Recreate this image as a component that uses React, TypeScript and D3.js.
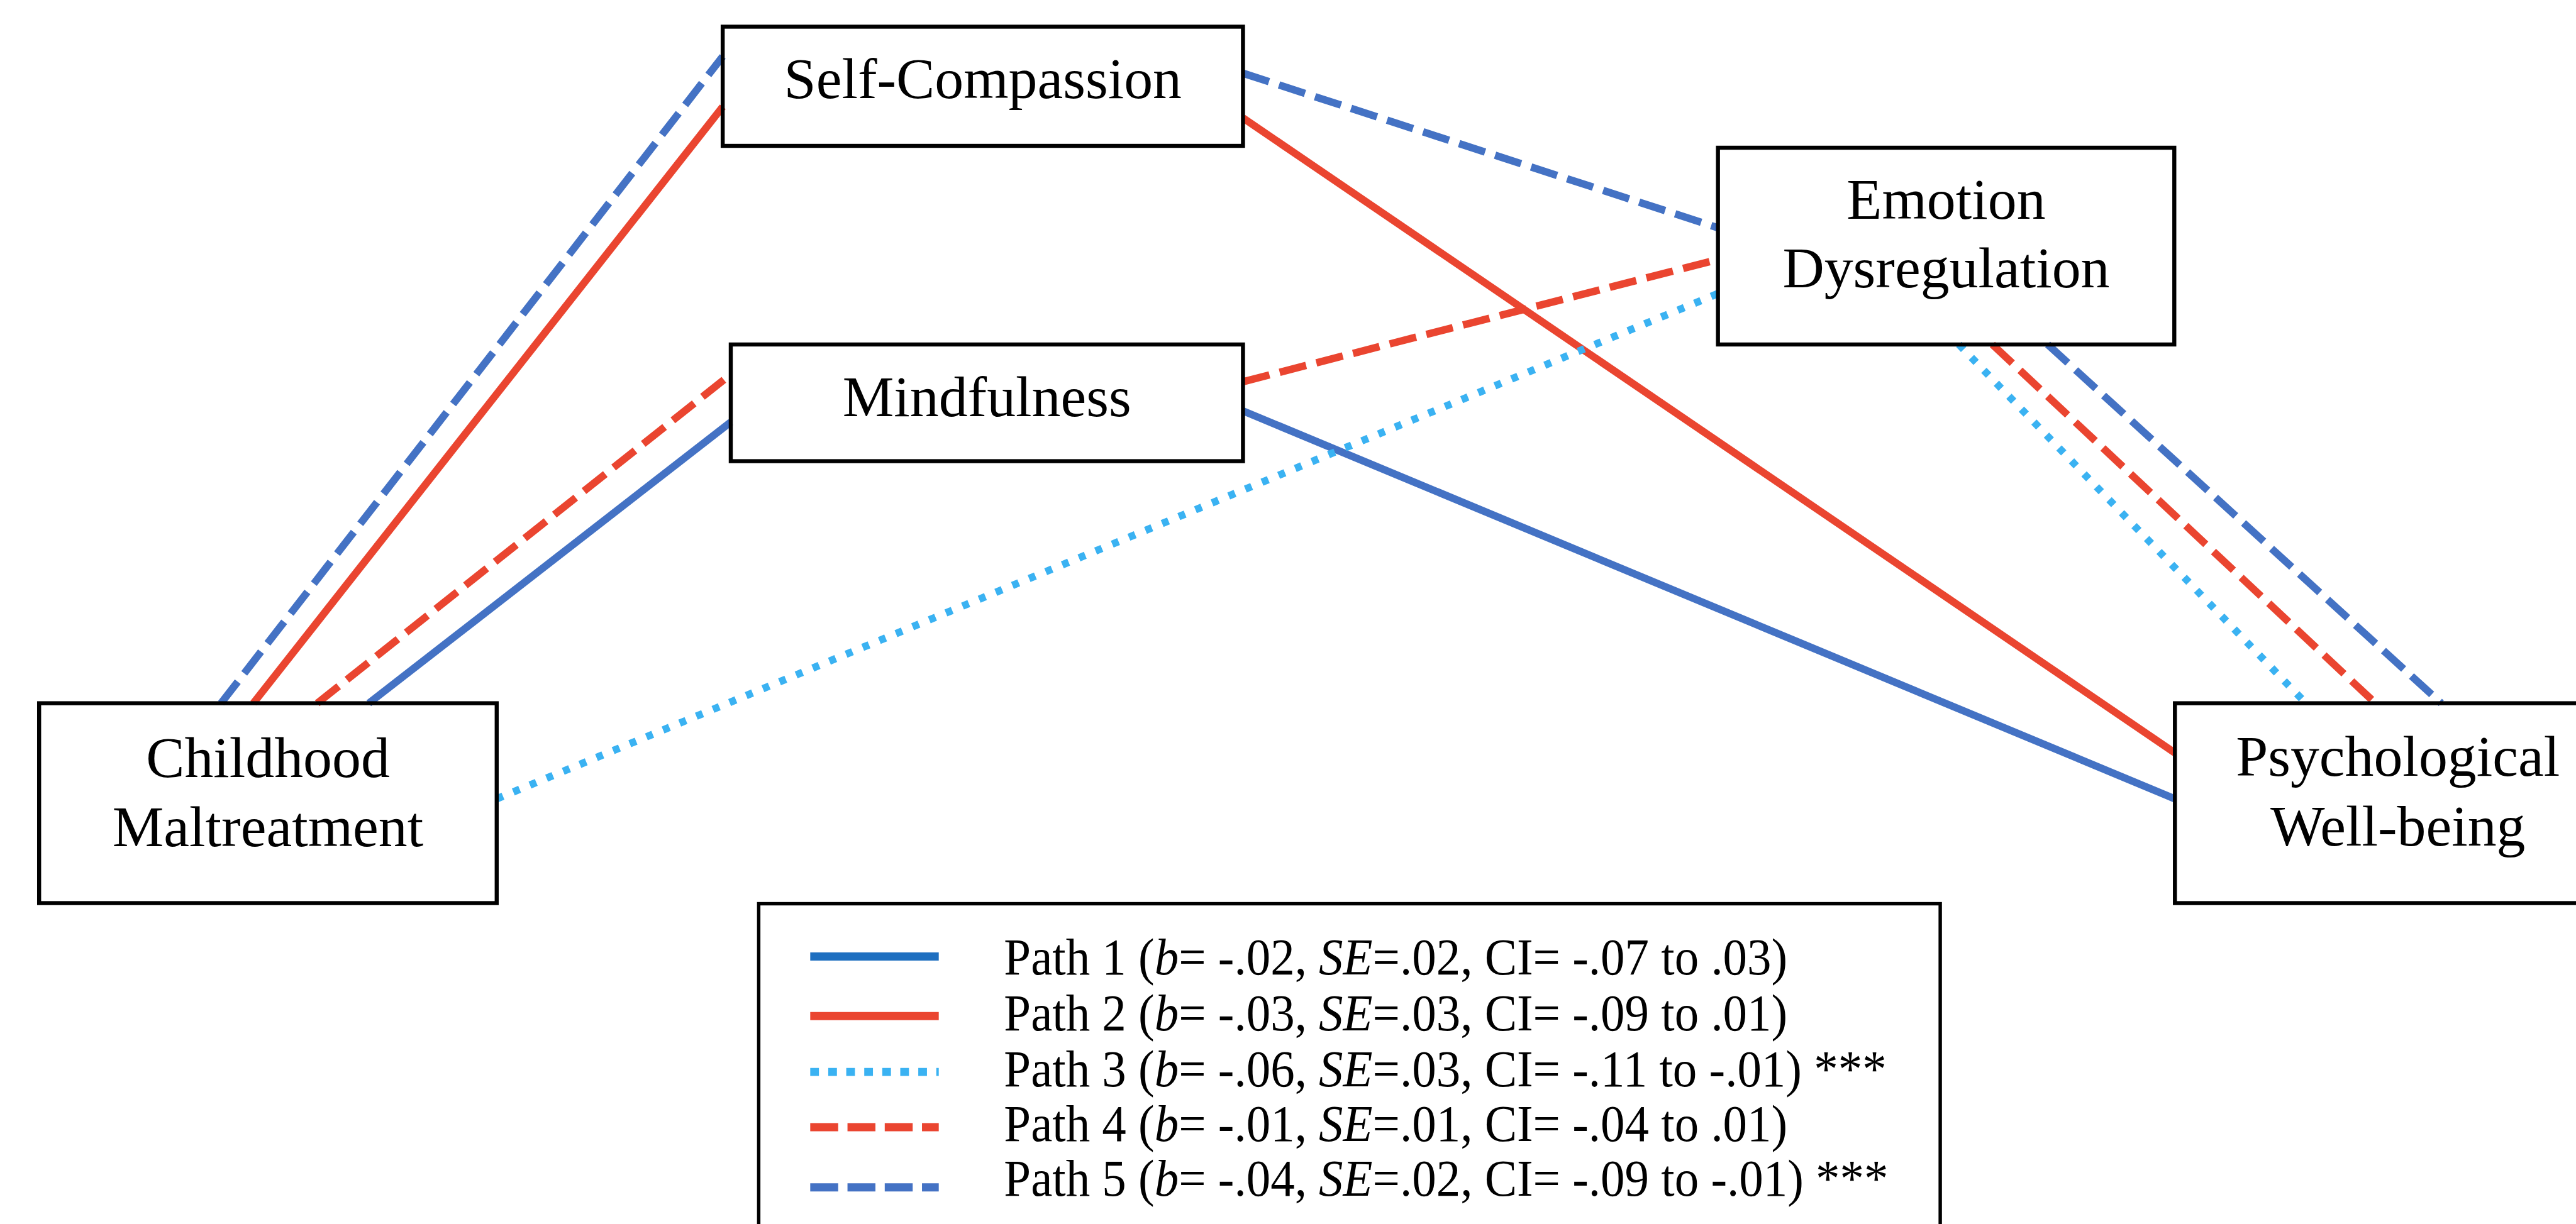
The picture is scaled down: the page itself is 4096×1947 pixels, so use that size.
import React from 'react';
import * as d3 from 'd3';

const W = 4096;
const H = 1947;
const REF_W = 4149;
const REF_H = 1972;

// ---- nodes (labels + layout in reference pixels) ----
const nodeIds = ['CM', 'SC', 'MF', 'ED', 'PW'];
const nodeLabels = [
  ['Childhood', 'Maltreatment'],
  ['Self-Compassion'],
  ['Mindfulness'],
  ['Emotion', 'Dysregulation'],
  ['Psychological', 'Well-being'],
];
const nodeX = [63, 1164, 1177, 2767, 3503];
const nodeY = [1133, 43, 555, 238, 1133];
const nodeW = [737, 838, 825, 735, 718];
const nodeH = [322, 192, 188, 317, 322];
const nodeBaselines = [[119, 230], [115], [115], [114, 225], [117, 229]];

// ---- paths ----
const pathNames = ['Path 1', 'Path 2', 'Path 3', 'Path 4', 'Path 5'];
const pathB = ['-.02', '-.03', '-.06', '-.01', '-.04'];
const pathSE = ['.02', '.03', '.03', '.01', '.02'];
const pathCILow = ['-.07', '-.09', '-.11', '-.04', '-.09'];
const pathCIHigh = ['.03', '.01', '-.01', '.01', '-.01'];
const pathSig = ['', '', ' ***', '', ' ***'];
const pathColor = ['#4472C4', '#EA4530', '#3AB2F2', '#EA4530', '#4472C4'];
const legendColor = ['#1E6FC0', '#EA4530', '#3AB2F2', '#EA4530', '#4472C4'];
const pathStyle = ['solid', 'solid', 'dotted', 'dashed', 'dashed'];
// anchors: [node, side, offset along side]; consecutive pairs form segments
const pathAnchors: [number, string, number][][] = [
  [[0, 'top', 531], [2, 'left', 125], [2, 'right', 107], [4, 'left', 154]],
  [[0, 'top', 345], [1, 'left', 129], [1, 'right', 147], [4, 'left', 80]],
  [[0, 'right', 154], [3, 'left', 235], [3, 'bottom', 388], [4, 'top', 211]],
  [[0, 'top', 448], [2, 'left', 48], [2, 'right', 60], [3, 'left', 180], [3, 'bottom', 442], [4, 'top', 323]],
  [[0, 'top', 293], [1, 'left', 48], [1, 'right', 75], [3, 'left', 129], [3, 'bottom', 531], [4, 'top', 429]],
];

// legend layout (reference px)
const legendBox = { x: 1222, y: 1456, w: 1903, h: 700 };
const legendSampleY = [1541, 1637, 1727, 1816, 1913];
const legendTextY = [1570, 1660, 1750, 1838, 1926];

const sx = d3.scaleLinear().domain([0, REF_W]).range([0, W]);
const sy = d3.scaleLinear().domain([0, REF_H]).range([0, H]);
const k = W / REF_W;

const FONT = '"Liberation Serif", "Times New Roman", "DejaVu Serif", serif';

function anchorPoint(a: [number, string, number]): [number, number] {
  const [n, side, off] = a;
  const x0 = nodeX[n], y0 = nodeY[n], w = nodeW[n], h = nodeH[n];
  if (side === 'top') return [x0 + off, y0];
  if (side === 'bottom') return [x0 + off, y0 + h];
  if (side === 'left') return [x0, y0 + off];
  return [x0 + w, y0 + off];
}

const LINE_W = 12;
function dash(style: string): string | undefined {
  if (style === 'dashed') return `${44 * k} ${17 * k}`;
  if (style === 'dotted') return `${11 * k} ${18 * k}`;
  return undefined;
}
function legendDash(style: string): string | undefined {
  if (style === 'dashed') return `${45 * k} ${15 * k}`;
  if (style === 'dotted') return `${14 * k} ${15 * k}`;
  return undefined;
}

const line = d3
  .line<[number, number]>()
  .x((d) => sx(d[0]))
  .y((d) => sy(d[1]));

export default function App() {
  const segments: { d: string; color: string; style: string; key: string }[] = [];
  pathAnchors.forEach((anchors, p) => {
    for (let i = 0; i + 1 < anchors.length; i += 2) {
      segments.push({
        d: line([anchorPoint(anchors[i]), anchorPoint(anchors[i + 1])]) as string,
        color: pathColor[p],
        style: pathStyle[p],
        key: `${p}-${i}`,
      });
    }
  });

  const nodeFont = 93 * k;
  const legendFont = 84 * k;
  const legendScaleX = 0.928;

  return (
    <svg
      width={W}
      height={H}
      viewBox={`0 0 ${W} ${H}`}
      style={{ position: 'absolute', left: 0, top: 0, background: '#fff' }}
      fontFamily={FONT}
    >
      <rect x={0} y={0} width={W} height={H} fill="#fff" />
      {segments.map((s) => (
        <path
          key={s.key}
          d={s.d}
          fill="none"
          stroke={s.color}
          strokeWidth={LINE_W * k}
          strokeDasharray={dash(s.style)}
          strokeLinecap="butt"
        />
      ))}
      {nodeIds.map((id, i) => (
        <g key={id}>
          <rect
            x={sx(nodeX[i])}
            y={sy(nodeY[i])}
            width={sx(nodeW[i])}
            height={sy(nodeH[i])}
            fill="none"
            stroke="#000"
            strokeWidth={6.5 * k}
          />
          {nodeLabels[i].map((t, j) => (
            <text
              key={j}
              x={sx(nodeX[i] + nodeW[i] / 2)}
              y={sy(nodeY[i] + nodeBaselines[i][j])}
              textAnchor="middle"
              fontSize={nodeFont}
              fill="#000"
            >
              {t}
            </text>
          ))}
        </g>
      ))}
      <rect
        x={sx(legendBox.x)}
        y={sy(legendBox.y)}
        width={sx(legendBox.w)}
        height={sy(legendBox.h)}
        fill="#fff"
        stroke="#000"
        strokeWidth={5.5 * k}
      />
      {pathNames.map((name, i) => (
        <g key={name}>
          <line
            x1={sx(1305)}
            x2={sx(1512)}
            y1={sy(legendSampleY[i])}
            y2={sy(legendSampleY[i])}
            stroke={legendColor[i]}
            strokeWidth={13 * k}
            strokeDasharray={legendDash(pathStyle[i])}
          />
          <text
            transform={`translate(${sx(1617)},${sy(legendTextY[i])}) scale(${legendScaleX},1)`}
            fontSize={legendFont}
            fill="#000"
          >
            {name} (<tspan fontStyle="italic">b</tspan>= {pathB[i]},{' '}
            <tspan fontStyle="italic">SE</tspan>={pathSE[i]}, CI= {pathCILow[i]} to {pathCIHigh[i]})
            {pathSig[i]}
          </text>
        </g>
      ))}
    </svg>
  );
}
